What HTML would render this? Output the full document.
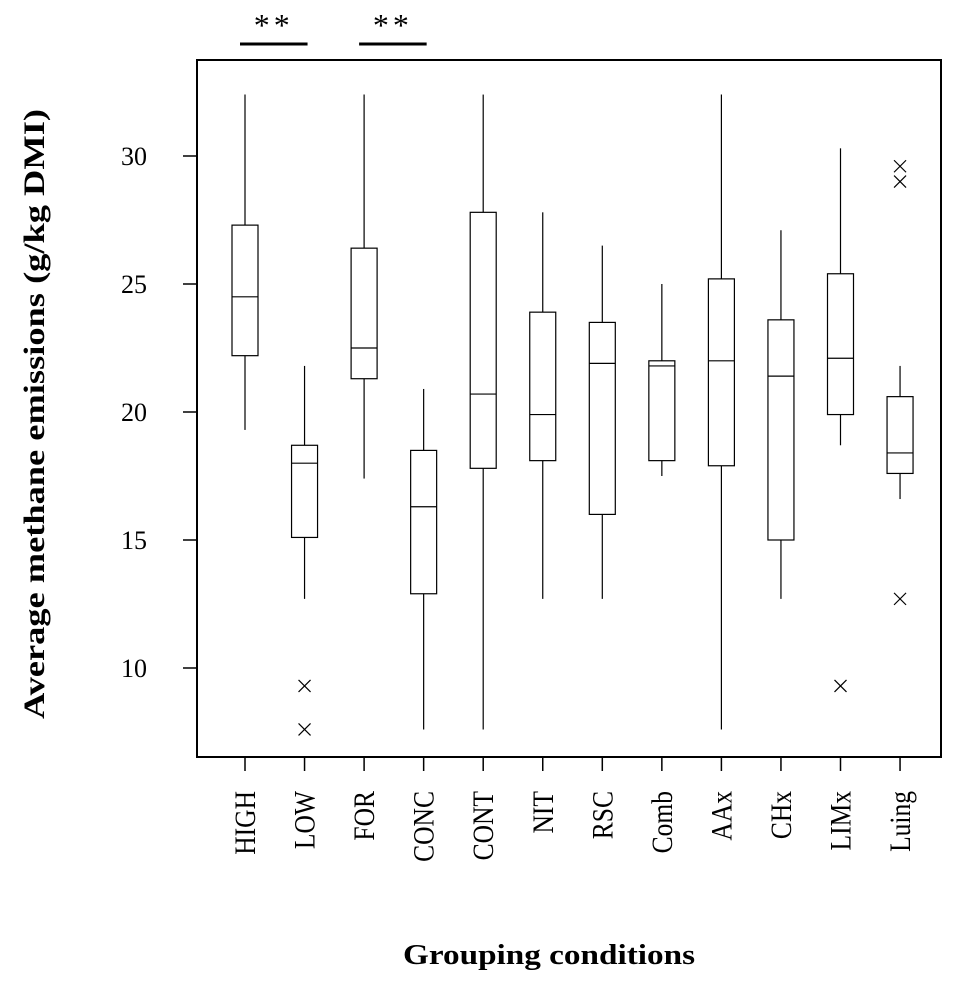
<!DOCTYPE html>
<html><head><meta charset="utf-8"><style>
body{margin:0;background:#fff;}
svg text{font-family:"Liberation Serif",serif;fill:#000;}
</style></head><body>
<svg id="chart" width="957" height="985" xmlns="http://www.w3.org/2000/svg"></svg>
<script>
const categories=["HIGH","LOW","FOR","CONC","CONT","NIT","RSC","Comb","AAx","CHx","LIMx","Luing"];
const whiskerLow=[19.3,12.7,17.4,7.6,7.6,12.7,12.7,17.5,7.6,12.7,18.7,16.6];
const q1=[22.2,15.1,21.3,12.9,17.8,18.1,16.0,18.1,17.9,15.0,19.9,17.6];
const medians=[24.5,18.0,22.5,16.3,20.7,19.9,21.9,21.8,22.0,21.4,22.1,18.4];
const q3=[27.3,18.7,26.4,18.5,27.8,23.9,23.5,22.0,25.2,23.6,25.4,20.6];
const whiskerHigh=[32.4,21.8,32.4,20.9,32.4,27.8,26.5,25.0,32.4,27.1,30.3,21.8];
const outlierCat=[1,1,10,11,11,11];
const outlierVal=[9.3,7.6,9.3,29.6,29.0,12.7];
const yTicks=[10,15,20,25,30];
const sigPairs=[[0,1],[2,3]];
const sigLabels=["**","**"];

const NS="http://www.w3.org/2000/svg";
const svg=document.getElementById('chart');
const L=197,R=941,T=60,B=757;
function y(v){return 156+(30-v)*25.6;}
function x(i){return 245+i*59.55;}
function el(tag,attrs,parent){const e=document.createElementNS(NS,tag);for(const k in attrs)e.setAttribute(k,attrs[k]);(parent||svg).appendChild(e);return e;}

let f=el('rect',{x:L,y:T,width:R-L,height:B-T,fill:'none',stroke:'#000','stroke-width':2});



yTicks.forEach(v=>{
  let t=el('line',{x1:L-14,x2:L,y1:y(v),y2:y(v),stroke:'#000','stroke-width':1.5});
  
  
  let lb=el('text',{x:L-50,y:y(v)+9,'text-anchor':'end','font-size':26});
  lb.textContent=v;
  
  
});

categories.forEach((c,i)=>{
  const cx=x(i),w=13;
  const g=el('g',{});
  
  
  el('line',{x1:cx,x2:cx,y1:y(whiskerHigh[i]),y2:y(q3[i]),stroke:'#000','stroke-width':1.2},g);
  el('line',{x1:cx,x2:cx,y1:y(q1[i]),y2:y(whiskerLow[i]),stroke:'#000','stroke-width':1.2},g);
  el('rect',{x:cx-w,y:y(q3[i]),width:2*w,height:y(q1[i])-y(q3[i]),fill:'none',stroke:'#000','stroke-width':1.2},g);
  el('line',{x1:cx-w,x2:cx+w,y1:y(medians[i]),y2:y(medians[i]),stroke:'#000','stroke-width':1.2},g);
  let t=el('line',{x1:cx,x2:cx,y1:B,y2:B+14,stroke:'#000','stroke-width':1.5});
  
  
  const bx=cx+10,by=791;
  let lb=el('text',{x:bx,y:by,'text-anchor':'end','font-size':30,transform:`rotate(-90 ${bx} ${by})`});
  lb.textContent=c;
  
  
  const len=lb.getComputedTextLength();
  lb.setAttribute('textLength',len*0.85);
  lb.setAttribute('lengthAdjust','spacingAndGlyphs');
});

outlierVal.forEach((v,k)=>{
  const cx=x(outlierCat[k]),cy=y(v),s=6;
  const g=el('g',{stroke:'#000','stroke-width':1.2});
  
  
  el('line',{x1:cx-s,y1:cy-s,x2:cx+s,y2:cy+s},g);
  el('line',{x1:cx-s,y1:cy+s,x2:cx+s,y2:cy-s},g);
});

sigPairs.forEach((p,k)=>{
  const x1=x(p[0])-5,x2=x(p[1])+3;
  let l=el('line',{x1:x1,x2:x2,y1:44,y2:44,stroke:'#000','stroke-width':3});
  
  
  let t=el('text',{x:(x1+x2)/2,y:36,'text-anchor':'middle','font-size':32,'letter-spacing':'4'});
  t.textContent=sigLabels[k];
  
  
});

let yt=el('text',{x:44,y:414,'text-anchor':'middle','font-size':30,'font-weight':'bold',textLength:610,lengthAdjust:'spacingAndGlyphs',transform:'rotate(-90 44 414)'});
yt.textContent='Average methane emissions (g/kg DMI)';


let xt=el('text',{x:549,y:964,'text-anchor':'middle','font-size':28,'font-weight':'bold',textLength:292,lengthAdjust:'spacingAndGlyphs'});
xt.textContent='Grouping conditions';


</script>
</body></html>
